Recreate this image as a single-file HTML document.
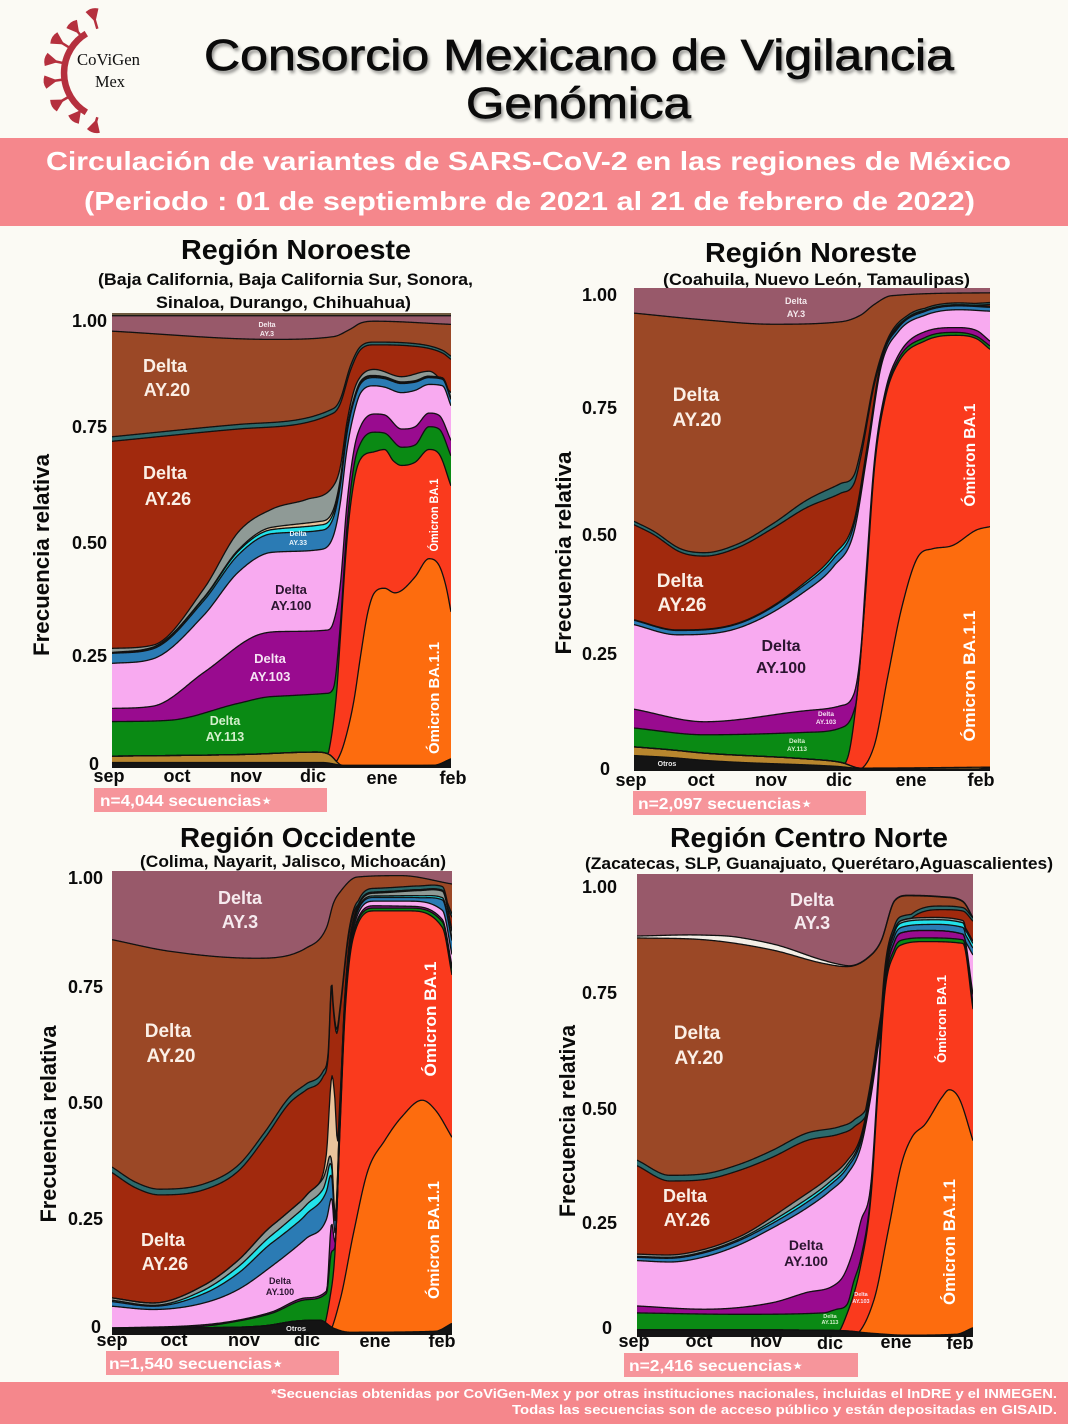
<!DOCTYPE html>
<html><head><meta charset="utf-8">
<style>
html,body{margin:0;padding:0;background:#fbfaf4;}
svg{display:block;}
text{font-family:"Liberation Sans",sans-serif;}
</style></head><body>
<svg id="s" xmlns="http://www.w3.org/2000/svg" width="1068" height="1424" viewBox="0 0 1068 1424">
<defs>
<filter id="sh" x="-5%" y="-30%" width="110%" height="160%"><feGaussianBlur stdDeviation="1.6"/></filter>
<clipPath id="c1"><rect x="112" y="313" width="339" height="455"/></clipPath>
<clipPath id="c2"><rect x="634" y="288" width="356" height="483"/></clipPath>
<clipPath id="c3"><rect x="112" y="871" width="340" height="464"/></clipPath>
<clipPath id="c4"><rect x="637" y="874" width="336" height="463"/></clipPath>
</defs>
<rect width="1068" height="1424" fill="#fbfaf4"/>

<!-- Logo -->
<g fill="#b5303e" stroke="#b5303e">
<path d="M86.3,33.6 A46,46 0 0 0 86.3,112.4" fill="none" stroke-width="6.5"/>
<g transform="translate(110,73) rotate(-106)"><line x1="46" y1="0" x2="56" y2="0" stroke-width="2.5"/><path d="M54,0 L65,-6 Q68,0 65,6 Z" stroke-width="1"/></g>
<g transform="translate(110,73) rotate(-128)"><line x1="46" y1="0" x2="53" y2="0" stroke-width="2.5"/><path d="M51,0 L62,-6 Q65,0 62,6 Z" stroke-width="1"/></g>
<g transform="translate(110,73) rotate(-148)"><line x1="46" y1="0" x2="57" y2="0" stroke-width="2.5"/><path d="M55,0 L66,-6 Q69,0 66,6 Z" stroke-width="1"/></g>
<g transform="translate(110,73) rotate(-168)"><line x1="46" y1="0" x2="56" y2="0" stroke-width="2.5"/><path d="M54,0 L65,-6 Q68,0 65,6 Z" stroke-width="1"/></g>
<g transform="translate(110,73) rotate(172)"><line x1="46" y1="0" x2="56" y2="0" stroke-width="2.5"/><path d="M54,0 L65,-6 Q68,0 65,6 Z" stroke-width="1"/></g>
<g transform="translate(110,73) rotate(150)"><line x1="46" y1="0" x2="56" y2="0" stroke-width="2.5"/><path d="M54,0 L65,-6 Q68,0 65,6 Z" stroke-width="1"/></g>
<g transform="translate(110,73) rotate(128)"><line x1="46" y1="0" x2="50" y2="0" stroke-width="2.5"/><path d="M48,0 L59,-6 Q62,0 59,6 Z" stroke-width="1"/></g>
<g transform="translate(110,73) rotate(106)"><line x1="46" y1="0" x2="51" y2="0" stroke-width="2.5"/><path d="M49,0 L60,-6 Q63,0 60,6 Z" stroke-width="1"/></g>
</g>
<text x="77" y="65" font-size="17" fill="#111" textLength="63" lengthAdjust="spacingAndGlyphs" style="font-family:'Liberation Serif',serif">CoViGen</text>
<text x="95" y="87" font-size="17" fill="#111" textLength="30" lengthAdjust="spacingAndGlyphs" style="font-family:'Liberation Serif',serif">Mex</text>

<!-- Main title -->
<g filter="url(#sh)" opacity="0.55" fill="#333">
<text x="206" y="73" font-size="44" textLength="750" lengthAdjust="spacingAndGlyphs">Consorcio Mexicano de Vigilancia</text>
<text x="468" y="121" font-size="44" textLength="225" lengthAdjust="spacingAndGlyphs">Genómica</text>
</g>
<text x="204" y="70" font-size="44" fill="#0a0a0a" stroke="#0a0a0a" stroke-width="0.7" textLength="750" lengthAdjust="spacingAndGlyphs">Consorcio Mexicano de Vigilancia</text>
<text x="466" y="118" font-size="44" fill="#0a0a0a" stroke="#0a0a0a" stroke-width="0.7" textLength="225" lengthAdjust="spacingAndGlyphs">Genómica</text>

<!-- Pink band -->
<rect x="0" y="138" width="1068" height="88" fill="#f5878c"/>
<text x="46" y="170" font-size="26" font-weight="bold" fill="#ffffff" textLength="965" lengthAdjust="spacingAndGlyphs">Circulación de variantes de SARS-CoV-2 en las regiones de México</text>
<text x="84" y="210" font-size="26" font-weight="bold" fill="#ffffff" textLength="891" lengthAdjust="spacingAndGlyphs">(Periodo : 01 de septiembre de 2021 al 21 de febrero de 2022)</text>

<!-- Panel titles -->
<g font-weight="bold" fill="#0a0a0a">
<text x="181" y="259" font-size="28" textLength="230" lengthAdjust="spacingAndGlyphs">Región Noroeste</text>
<text x="98" y="285" font-size="16.5" textLength="375" lengthAdjust="spacingAndGlyphs">(Baja California, Baja California Sur, Sonora,</text>
<text x="156" y="308" font-size="16.5" textLength="255" lengthAdjust="spacingAndGlyphs">Sinaloa, Durango, Chihuahua)</text>
<text x="705" y="262" font-size="28" textLength="212" lengthAdjust="spacingAndGlyphs">Región Noreste</text>
<text x="663" y="285" font-size="16.5" textLength="307" lengthAdjust="spacingAndGlyphs">(Coahuila, Nuevo León, Tamaulipas)</text>
<text x="180" y="847" font-size="28" textLength="236" lengthAdjust="spacingAndGlyphs">Región Occidente</text>
<text x="140" y="867" font-size="16.5" textLength="306" lengthAdjust="spacingAndGlyphs">(Colima, Nayarit, Jalisco, Michoacán)</text>
<text x="670" y="847" font-size="28" textLength="278" lengthAdjust="spacingAndGlyphs">Región Centro Norte</text>
<text x="585" y="869" font-size="16.5" textLength="468" lengthAdjust="spacingAndGlyphs">(Zacatecas, SLP, Guanajuato, Querétaro,Aguascalientes)</text>
</g>

<!-- Plot groups -->
<g id="p1" clip-path="url(#c1)"></g>
<g id="p2" clip-path="url(#c2)"></g>
<g id="p3" clip-path="url(#c3)"></g>
<g id="p4" clip-path="url(#c4)"></g>

<!-- Y ticks -->
<g font-size="18" font-weight="bold" fill="#0a0a0a" text-anchor="end">
<text x="107" y="327">1.00</text><text x="107" y="433">0.75</text><text x="107" y="549">0.50</text><text x="107" y="662">0.25</text><text x="99" y="770">0</text>
<text x="617" y="301">1.00</text><text x="617" y="414">0.75</text><text x="617" y="541">0.50</text><text x="617" y="660">0.25</text><text x="610" y="775">0</text>
<text x="103" y="884">1.00</text><text x="103" y="993">0.75</text><text x="103" y="1109">0.50</text><text x="103" y="1225">0.25</text><text x="101" y="1333">0</text>
<text x="617" y="893">1.00</text><text x="617" y="999">0.75</text><text x="617" y="1115">0.50</text><text x="617" y="1229">0.25</text><text x="612" y="1334">0</text>
</g>

<!-- Month labels -->
<g font-size="18" font-weight="bold" fill="#0a0a0a" text-anchor="middle">
<text x="109" y="782">sep</text><text x="177" y="782">oct</text><text x="246" y="782">nov</text><text x="313" y="782">dic</text><text x="382" y="784">ene</text><text x="453" y="784">feb</text>
<text x="631" y="786">sep</text><text x="701" y="786">oct</text><text x="771" y="786">nov</text><text x="839" y="786">dic</text><text x="911" y="786">ene</text><text x="981" y="786">feb</text>
<text x="112" y="1346">sep</text><text x="174" y="1346">oct</text><text x="244" y="1346">nov</text><text x="307" y="1346">dic</text><text x="375" y="1347">ene</text><text x="442" y="1347">feb</text>
<text x="634" y="1347">sep</text><text x="699" y="1347">oct</text><text x="766" y="1347">nov</text><text x="830" y="1349">dic</text><text x="896" y="1348">ene</text><text x="960" y="1349">feb</text>
</g>

<!-- Y axis titles -->
<g font-size="22" font-weight="bold" fill="#0a0a0a" text-anchor="middle">
<text transform="translate(49,555) rotate(-90)" textLength="202" lengthAdjust="spacingAndGlyphs">Frecuencia relativa</text>
<text transform="translate(571,553) rotate(-90)" textLength="203" lengthAdjust="spacingAndGlyphs">Frecuencia relativa</text>
<text transform="translate(56,1124) rotate(-90)" textLength="197" lengthAdjust="spacingAndGlyphs">Frecuencia relativa</text>
<text transform="translate(575,1121) rotate(-90)" textLength="192" lengthAdjust="spacingAndGlyphs">Frecuencia relativa</text>
</g>

<!-- n boxes -->
<rect x="94" y="788" width="233" height="24" fill="#f6959b"/>
<rect x="633" y="791" width="233" height="24" fill="#f6959b"/>
<rect x="106" y="1351" width="233" height="24" fill="#f6959b"/>
<rect x="624" y="1353" width="234" height="24" fill="#f6959b"/>
<g font-size="16" font-weight="bold" fill="#ffffff">
<text x="100" y="806" textLength="172" lengthAdjust="spacingAndGlyphs">n=4,044 secuencias⋆</text>
<text x="638" y="809" textLength="174" lengthAdjust="spacingAndGlyphs">n=2,097 secuencias⋆</text>
<text x="109" y="1369" textLength="174" lengthAdjust="spacingAndGlyphs">n=1,540 secuencias⋆</text>
<text x="629" y="1371" textLength="174" lengthAdjust="spacingAndGlyphs">n=2,416 secuencias⋆</text>
</g>

<!-- In-plot labels -->
<g font-weight="bold" text-anchor="middle">
<!-- P1 -->
<text x="267" y="327" font-size="7" fill="#f4e8ec">Delta</text>
<text x="267" y="336" font-size="7" fill="#f4e8ec">AY.3</text>
<text x="165" y="372" font-size="18" fill="#fbefe6">Delta</text>
<text x="167" y="396" font-size="18" fill="#fbefe6">AY.20</text>
<text x="165" y="479" font-size="18" fill="#fbefe6">Delta</text>
<text x="168" y="505" font-size="18" fill="#fbefe6">AY.26</text>
<text x="298" y="536" font-size="7" fill="#e6f2fa">Delta</text>
<text x="298" y="545" font-size="7" fill="#e6f2fa">AY.33</text>
<text x="291" y="594" font-size="13" fill="#2b1530">Delta</text>
<text x="291" y="610" font-size="13" fill="#2b1530">AY.100</text>
<text x="270" y="663" font-size="13" fill="#f6e3f4">Delta</text>
<text x="270" y="681" font-size="13" fill="#f6e3f4">AY.103</text>
<text x="225" y="725" font-size="12.5" fill="#d4f0cc">Delta</text>
<text x="225" y="741" font-size="12.5" fill="#d4f0cc">AY.113</text>
<!-- P2 -->
<text x="796" y="304" font-size="9" fill="#f4e8ec">Delta</text>
<text x="796" y="317" font-size="9" fill="#f4e8ec">AY.3</text>
<text x="696" y="401" font-size="19" fill="#fbefe6">Delta</text>
<text x="697" y="426" font-size="19" fill="#fbefe6">AY.20</text>
<text x="680" y="587" font-size="19" fill="#fbefe6">Delta</text>
<text x="682" y="611" font-size="19" fill="#fbefe6">AY.26</text>
<text x="781" y="651" font-size="16" fill="#2b1530">Delta</text>
<text x="781" y="673" font-size="16" fill="#2b1530">AY.100</text>
<text x="826" y="716" font-size="6.5" fill="#f6e3f4">Delta</text>
<text x="826" y="724" font-size="6.5" fill="#f6e3f4">AY.103</text>
<text x="797" y="743" font-size="6.5" fill="#d4f0cc">Delta</text>
<text x="797" y="751" font-size="6.5" fill="#d4f0cc">AY.113</text>
<text x="667" y="766" font-size="7" fill="#e8e8e8">Otros</text>
<!-- P3 -->
<text x="240" y="904" font-size="18" fill="#f6eaee">Delta</text>
<text x="240" y="928" font-size="18" fill="#f6eaee">AY.3</text>
<text x="168" y="1037" font-size="19" fill="#fbefe6">Delta</text>
<text x="171" y="1062" font-size="19" fill="#fbefe6">AY.20</text>
<text x="163" y="1246" font-size="18" fill="#fbefe6">Delta</text>
<text x="165" y="1270" font-size="18" fill="#fbefe6">AY.26</text>
<text x="280" y="1284" font-size="9" fill="#2b1530">Delta</text>
<text x="280" y="1295" font-size="9" fill="#2b1530">AY.100</text>
<text x="296" y="1331" font-size="7.5" fill="#e8e8e8">Otros</text>
<!-- P4 -->
<text x="812" y="906" font-size="18" fill="#f6eaee">Delta</text>
<text x="812" y="929" font-size="18" fill="#f6eaee">AY.3</text>
<text x="697" y="1039" font-size="19" fill="#fbefe6">Delta</text>
<text x="699" y="1064" font-size="19" fill="#fbefe6">AY.20</text>
<text x="685" y="1202" font-size="18" fill="#fbefe6">Delta</text>
<text x="687" y="1226" font-size="18" fill="#fbefe6">AY.26</text>
<text x="806" y="1250" font-size="14" fill="#2b1530">Delta</text>
<text x="806" y="1266" font-size="14" fill="#2b1530">AY.100</text>
<text x="861" y="1296" font-size="5.5" fill="#f6e3f4">Delta</text>
<text x="861" y="1303" font-size="5.5" fill="#f6e3f4">AY.103</text>
<text x="830" y="1318" font-size="5.5" fill="#d4f0cc">Delta</text>
<text x="830" y="1324" font-size="5.5" fill="#d4f0cc">AY.113</text>
</g>
<!-- Omicron labels -->
<g font-weight="bold" fill="#ffffff" text-anchor="middle">
<text transform="translate(438,515) rotate(-90)" font-size="12" textLength="73" lengthAdjust="spacingAndGlyphs">Ómicron BA.1</text>
<text transform="translate(439,698) rotate(-90)" font-size="15" textLength="112" lengthAdjust="spacingAndGlyphs">Ómicron BA.1.1</text>
<text transform="translate(975,455) rotate(-90)" font-size="15.5" textLength="103" lengthAdjust="spacingAndGlyphs">Ómicron BA.1</text>
<text transform="translate(975,676) rotate(-90)" font-size="17" textLength="131" lengthAdjust="spacingAndGlyphs">Ómicron BA.1.1</text>
<text transform="translate(436,1019) rotate(-90)" font-size="16.5" textLength="115" lengthAdjust="spacingAndGlyphs">Ómicron BA.1</text>
<text transform="translate(439,1240) rotate(-90)" font-size="15.5" textLength="118" lengthAdjust="spacingAndGlyphs">Ómicron BA.1.1</text>
<text transform="translate(946,1019) rotate(-90)" font-size="13" textLength="88" lengthAdjust="spacingAndGlyphs">Ómicron BA.1</text>
<text transform="translate(955,1242) rotate(-90)" font-size="16.5" textLength="126" lengthAdjust="spacingAndGlyphs">Ómicron BA.1.1</text>
</g>

<!-- Footer -->
<rect x="0" y="1382" width="1068" height="42" fill="#f5878c"/>
<g font-size="12.5" font-weight="bold" fill="#ffffff" text-anchor="end">
<text x="1057" y="1398" textLength="786" lengthAdjust="spacingAndGlyphs">*Secuencias obtenidas por CoViGen-Mex y por otras instituciones nacionales, incluidas el InDRE y el INMEGEN.</text>
<text x="1057" y="1414" textLength="545" lengthAdjust="spacingAndGlyphs">Todas las secuencias son de acceso público y están depositadas en GISAID.</text>
</g>
</svg>
<script>
(function(){
var NS='http://www.w3.org/2000/svg';
function mono(pts){
  var n=pts.length,xs=pts.map(function(p){return p[0];}),ys=pts.map(function(p){return p[1];});
  if(n===1)return function(){return ys[0];};
  var d=[],m=new Array(n),i;
  for(i=0;i<n-1;i++)d.push((ys[i+1]-ys[i])/(xs[i+1]-xs[i]));
  m[0]=d[0];m[n-1]=d[n-2];
  for(i=1;i<n-1;i++){m[i]=(d[i-1]*d[i]<=0)?0:(d[i-1]+d[i])/2;}
  for(i=0;i<n-1;i++){
    if(d[i]===0){m[i]=0;m[i+1]=0;continue;}
    var a=m[i]/d[i],b=m[i+1]/d[i],s=a*a+b*b;
    if(s>9){var tau=3/Math.sqrt(s);m[i]=tau*a*d[i];m[i+1]=tau*b*d[i];}
  }
  return function(t){
    if(t<=xs[0])return ys[0];if(t>=xs[n-1])return ys[n-1];
    var k=0;while(t>xs[k+1])k++;
    var h=xs[k+1]-xs[k],u=(t-xs[k])/h,u2=u*u,u3=u2*u;
    return (2*u3-3*u2+1)*ys[k]+(u3-2*u2+u)*h*m[k]+(-2*u3+3*u2)*ys[k+1]+(u3-u2)*h*m[k+1];
  };
}
function draw(id,x0,x1,y0,y1,layers){
  var g=document.getElementById(id),N=360,ts=[],i,k;
  for(i=0;i<=N;i++)ts.push(i/N);
  var prev=ts.map(function(){return 0;}),tops=[];
  layers.forEach(function(L){
    var f=mono(L[1]),rel=L[2]==='r';
    var cur=ts.map(function(t,j){var v=rel?prev[j]+Math.max(0,f(t)):Math.max(prev[j],f(t));return Math.min(1,v);});
    tops.push(cur);prev=cur;});
  function X(t){return (x0+t*(x1-x0)).toFixed(2);}
  function Y(v){return (y1-v*(y1-y0)).toFixed(2);}
  for(k=layers.length-1;k>=0;k--){
    var d='M'+x0+','+y1;
    for(i=0;i<=N;i++)d+='L'+X(ts[i])+','+Y(tops[k][i]);
    d+='L'+x1+','+y1+'Z';
    var p=document.createElementNS(NS,'path');p.setAttribute('d',d);p.setAttribute('fill',layers[k][0]);g.appendChild(p);
  }
  for(k=0;k<layers.length-1;k++){
    var d2='';
    for(i=0;i<=N;i++)d2+=(i?'L':'M')+X(ts[i])+','+Y(tops[k][i]);
    var q=document.createElementNS(NS,'path');q.setAttribute('d',d2);q.setAttribute('fill','none');q.setAttribute('stroke','#111');q.setAttribute('stroke-width','1.3');q.setAttribute('stroke-linejoin','round');g.appendChild(q);
  }
}
var C={otros:'#141414',gold:'#b8862e',orange:'#fd6c0e',red:'#fa3a1d',green:'#0a8a14',purple:'#990b8f',pink:'#f8aaf0',blue:'#2b7bb4',cyan:'#22e2ea',tan:'#e9c49c',grey:'#8f9a96',ay26:'#a1290d',teal:'#2c6a6c',ay20:'#9b4826',ay3:'#98596a',cream:'#f3eee6'};

draw('p1',112,451,313,768,[
 [C.otros,[[0,0.012],[0.62,0.012],[0.7,0.004],[0.95,0.006],[1,0.02]]],
 [C.gold,[[0,0.026],[0.4,0.03],[0.6,0.035],[0.64,0.03],[0.68,0.006],[0.95,0.006],[1,0.02]]],
 [C.orange,[[0,0],[0.64,0],[0.673,0.03],[0.694,0.08],[0.714,0.15],[0.734,0.25],[0.754,0.34],[0.774,0.385],[0.804,0.395],[0.834,0.385],[0.854,0.39],[0.894,0.42],[0.935,0.46],[0.965,0.445],[0.985,0.40],[1,0.343]]],
 [C.red,[[0,0],[0.62,0],[0.643,0.05],[0.663,0.17],[0.673,0.28],[0.693,0.50],[0.714,0.63],[0.734,0.68],[0.774,0.695],[0.804,0.70],[0.83,0.675],[0.854,0.665],[0.894,0.672],[0.935,0.70],[0.965,0.69],[1,0.62]]],
 [C.green,[[0,0.102],[0.171,0.105],[0.372,0.142],[0.472,0.157],[0.633,0.164],[0.653,0.175],[0.673,0.31],[0.693,0.53],[0.714,0.665],[0.734,0.715],[0.774,0.738],[0.804,0.736],[0.854,0.705],[0.894,0.71],[0.935,0.75],[0.965,0.745],[1,0.686]]],
 [C.purple,[[0,0.131],[0.121,0.136],[0.271,0.21],[0.422,0.29],[0.503,0.30],[0.633,0.303],[0.653,0.32],[0.673,0.40],[0.693,0.58],[0.714,0.70],[0.734,0.752],[0.774,0.778],[0.804,0.776],[0.854,0.745],[0.894,0.75],[0.935,0.78],[0.965,0.775],[1,0.72]]],
 [C.pink,[[0,0.23],[0.121,0.24],[0.271,0.336],[0.372,0.43],[0.472,0.474],[0.613,0.48],[0.653,0.51],[0.673,0.58],[0.693,0.70],[0.714,0.78],[0.734,0.825],[0.774,0.84],[0.804,0.837],[0.854,0.825],[0.894,0.83],[0.935,0.843],[0.975,0.84],[1,0.796]]],
 [C.blue,[[0,0.022],[0.121,0.022],[0.271,0.032],[0.372,0.038],[0.472,0.041],[0.613,0.042],[0.653,0.04],[0.693,0.035],[0.734,0.02],[0.774,0.018],[0.854,0.02],[0.935,0.015],[1,0.014]],'r'],
 [C.cyan,[[0,0.001],[0.271,0.005],[0.372,0.008],[0.47,0.009],[0.613,0.012],[0.653,0.01],[0.72,0.003],[1,0.002]],'r'],
 [C.tan,[[0,0.001],[0.3,0.002],[0.47,0.005],[0.613,0.008],[0.653,0.008],[0.72,0.003],[1,0.001]],'r'],
 [C.grey,[[0,0.263],[0.121,0.27],[0.271,0.394],[0.372,0.518],[0.472,0.569],[0.573,0.59],[0.653,0.62],[0.673,0.66],[0.693,0.76],[0.714,0.83],[0.734,0.861],[0.774,0.876],[0.854,0.86],[0.935,0.872],[1,0.825]]],
 [C.ay26,[[0,0.718],[0.372,0.745],[0.653,0.78],[0.673,0.80],[0.704,0.875],[0.734,0.92],[0.774,0.93],[0.874,0.928],[0.975,0.912],[1,0.898]]],
 [C.teal,[[0,0.728],[0.372,0.755],[0.653,0.79],[0.673,0.81],[0.704,0.885],[0.734,0.927],[0.774,0.936],[0.874,0.934],[0.975,0.918],[1,0.905]]],
 [C.ay20,[[0,0.96],[0.472,0.942],[0.653,0.948],[0.704,0.965],[0.734,0.978],[0.774,0.982],[1,0.975]]],
 [C.ay3,[[0,0.994],[1,0.994]]],
 ['#6e5a40',[[0,1],[1,1]]]
]);

draw('p2',634,990,288,771,[
 [C.otros,[[0,0.032],[0.1,0.028],[0.198,0.022],[0.293,0.018],[0.561,0.01],[0.65,0.005],[0.96,0.004],[1,0.008]]],
 [C.gold,[[0,0.05],[0.1,0.044],[0.198,0.037],[0.484,0.025],[0.58,0.018],[0.637,0.006],[1,0.008]]],
 [C.orange,[[0,0],[0.618,0],[0.675,0.053],[0.713,0.196],[0.752,0.338],[0.799,0.445],[0.838,0.46],[0.895,0.467],[0.962,0.499],[1,0.506]]],
 [C.red,[[0,0],[0.56,0],[0.599,0.025],[0.627,0.16],[0.651,0.374],[0.675,0.624],[0.704,0.766],[0.742,0.845],[0.819,0.891],[0.904,0.902],[0.962,0.895],[1,0.873]]],
 [C.green,[[0,0.089],[0.198,0.075],[0.484,0.08],[0.58,0.089],[0.618,0.125],[0.637,0.2],[0.651,0.38],[0.675,0.63],[0.704,0.772],[0.742,0.852],[0.819,0.898],[0.904,0.908],[0.962,0.9],[1,0.88]]],
 [C.purple,[[0,0.128],[0.198,0.102],[0.484,0.125],[0.58,0.135],[0.618,0.16],[0.637,0.25],[0.651,0.40],[0.675,0.64],[0.704,0.78],[0.742,0.86],[0.819,0.91],[0.904,0.918],[0.962,0.912],[1,0.89]]],
 [C.pink,[[0,0.303],[0.121,0.282],[0.293,0.296],[0.484,0.374],[0.561,0.424],[0.618,0.495],[0.656,0.66],[0.694,0.837],[0.742,0.909],[0.819,0.944],[0.914,0.955],[1,0.952]]],
 [C.blue,[[0,0.009],[0.3,0.009],[0.48,0.014],[0.56,0.016],[0.62,0.015],[0.7,0.008],[1,0.008]],'r'],
 [C.cyan,[[0,0.001],[0.4,0.002],[0.5,0.005],[0.6,0.008],[0.7,0.003],[1,0.002]],'r'],
 [C.ay26,[[0,0.51],[0.054,0.49],[0.131,0.453],[0.198,0.445],[0.293,0.463],[0.389,0.502],[0.484,0.545],[0.58,0.575],[0.618,0.595],[0.637,0.65],[0.675,0.80],[0.713,0.89],[0.771,0.94],[0.866,0.958],[1,0.966]]],
 [C.teal,[[0,0.007],[0.2,0.007],[0.4,0.01],[0.48,0.015],[0.58,0.02],[0.62,0.017],[0.66,0.01],[0.72,0.005],[1,0.004]],'r'],
 [C.ay20,[[0,0.948],[0.198,0.934],[0.389,0.925],[0.58,0.93],[0.637,0.944],[0.675,0.966],[0.723,0.984],[1,0.99]]],
 [C.ay3,[[0,1],[1,1]]]
]);

draw('p3',112,452,871,1335,[
 [C.otros,[[0,0.015],[0.3,0.016],[0.45,0.02],[0.54,0.03],[0.611,0.032],[0.651,0.015],[0.7,0.006],[0.95,0.008],[1,0.025]]],
 [C.orange,[[0,0],[0.631,0],[0.671,0.076],[0.711,0.222],[0.752,0.353],[0.802,0.419],[0.852,0.47],[0.912,0.506],[0.952,0.484],[1,0.426]]],
 [C.red,[[0,0],[0.611,0],[0.641,0.08],[0.656,0.18],[0.671,0.45],[0.686,0.70],[0.711,0.86],[0.772,0.914],[0.872,0.914],[0.972,0.878],[1,0.776]]],
 [C.green,[[0,0.015],[0.25,0.018],[0.371,0.03],[0.471,0.047],[0.571,0.076],[0.631,0.09],[0.646,0.18],[0.656,0.19],[0.671,0.46],[0.686,0.71],[0.711,0.868],[0.772,0.92],[0.872,0.92],[0.972,0.89],[1,0.79]]],
 [C.purple,[[0,0.015],[0.27,0.022],[0.371,0.032],[0.471,0.05],[0.571,0.08],[0.631,0.095],[0.646,0.24],[0.656,0.2],[0.671,0.465],[0.686,0.715],[0.711,0.872],[0.772,0.925],[0.872,0.924],[0.972,0.895],[1,0.795]]],
 [C.pink,[[0,0.062],[0.12,0.055],[0.27,0.069],[0.371,0.098],[0.471,0.149],[0.571,0.208],[0.631,0.25],[0.646,0.295],[0.656,0.22],[0.671,0.48],[0.686,0.725],[0.711,0.88],[0.772,0.935],[0.872,0.935],[0.972,0.915],[1,0.82]]],
 [C.blue,[[0,0.01],[0.12,0.007],[0.27,0.02],[0.371,0.035],[0.471,0.05],[0.551,0.05],[0.621,0.06],[0.636,0.06],[0.66,0.02],[0.7,0.008],[0.9,0.008],[1,0.03]],'r'],
 [C.cyan,[[0,0.003],[0.12,0.002],[0.27,0.008],[0.371,0.014],[0.471,0.017],[0.551,0.02],[0.621,0.02],[0.636,0.03],[0.66,0.005],[0.7,0.003],[1,0.005]],'r'],
 [C.grey,[[0,0.005],[0.12,0.005],[0.27,0.01],[0.371,0.014],[0.471,0.02],[0.551,0.02],[0.621,0.023],[0.636,0.02],[0.66,0.005],[0.7,0.005],[1,0.015]],'r'],
 [C.tan,[[0,0],[0.6,0],[0.63,0.03],[0.646,0.18],[0.655,0.25],[0.665,0.05],[0.68,0.003],[1,0.002]],'r'],
 [C.ay26,[[0,0.35],[0.07,0.317],[0.14,0.302],[0.27,0.313],[0.371,0.353],[0.451,0.426],[0.521,0.499],[0.571,0.528],[0.621,0.557],[0.636,0.6],[0.646,0.75],[0.651,0.70],[0.661,0.65],[0.671,0.70],[0.696,0.86],[0.721,0.925],[0.772,0.94],[0.872,0.945],[0.972,0.94],[1,0.90]]],
 [C.teal,[[0,0.012],[0.6,0.013],[0.64,0.01],[0.7,0.008],[1,0.008]],'r'],
 [C.ay20,[[0,0.852],[0.17,0.827],[0.421,0.812],[0.571,0.834],[0.631,0.878],[0.651,0.93],[0.671,0.955],[0.721,0.987],[0.85,0.99],[1,0.972]]],
 [C.ay3,[[0,1],[1,1]]]
]);

draw('p4',637,973,874,1337,[
 [C.otros,[[0,0.016],[0.6,0.014],[0.7,0.008],[0.8,0.004],[0.95,0.006],[1,0.02]]],
 [C.orange,[[0,0],[0.635,0],[0.706,0.082],[0.747,0.227],[0.787,0.373],[0.818,0.431],[0.858,0.46],[0.909,0.519],[0.929,0.534],[0.959,0.515],[1,0.424]]],
 [C.red,[[0,0],[0.585,0],[0.625,0.05],[0.666,0.155],[0.696,0.30],[0.716,0.52],[0.737,0.74],[0.767,0.83],[0.787,0.847],[0.858,0.854],[0.97,0.85],[1,0.708]]],
 [C.green,[[0,0.052],[0.301,0.049],[0.554,0.052],[0.595,0.06],[0.625,0.07],[0.645,0.12],[0.666,0.17],[0.696,0.31],[0.716,0.53],[0.737,0.75],[0.767,0.84],[0.787,0.857],[0.858,0.862],[0.97,0.858],[1,0.72]]],
 [C.purple,[[0,0.067],[0.2,0.06],[0.402,0.074],[0.504,0.096],[0.585,0.111],[0.615,0.133],[0.645,0.19],[0.666,0.25],[0.696,0.33],[0.716,0.545],[0.737,0.76],[0.767,0.855],[0.787,0.873],[0.858,0.878],[0.97,0.87],[1,0.74]]],
 [C.pink,[[0,0.165],[0.098,0.162],[0.2,0.173],[0.301,0.198],[0.402,0.235],[0.504,0.278],[0.574,0.315],[0.625,0.351],[0.666,0.41],[0.696,0.519],[0.726,0.665],[0.767,0.81],[0.807,0.861],[0.909,0.872],[0.97,0.86],[1,0.825]]],
 [C.blue,[[0,0.007],[0.2,0.009],[0.4,0.01],[0.5,0.012],[0.57,0.013],[0.62,0.014],[0.7,0.01],[0.8,0.012],[1,0.015]],'r'],
 [C.cyan,[[0,0.002],[0.3,0.003],[0.5,0.007],[0.6,0.007],[0.7,0.005],[0.8,0.01],[1,0.01]],'r'],
 [C.grey,[[0,0.005],[0.3,0.005],[0.5,0.012],[0.6,0.01],[0.7,0.005],[1,0.005]],'r'],
 [C.ay26,[[0,0.37],[0.098,0.337],[0.2,0.34],[0.301,0.359],[0.402,0.388],[0.504,0.424],[0.605,0.439],[0.645,0.453],[0.696,0.504],[0.737,0.665],[0.777,0.847],[0.807,0.898],[0.909,0.923],[0.97,0.92],[1,0.898]]],
 [C.teal,[[0,0.012],[0.3,0.013],[0.5,0.016],[0.65,0.015],[0.75,0.01],[1,0.007]],'r'],
 [C.ay20,[[0,0.862],[0.2,0.858],[0.402,0.836],[0.554,0.807],[0.625,0.80],[0.686,0.818],[0.726,0.854],[0.767,0.942],[0.807,0.953],[0.909,0.95],[0.97,0.94],[1,0.905]]],
 [C.cream,[[0,0.004],[0.2,0.01],[0.3,0.014],[0.45,0.012],[0.6,0.004],[0.65,0.001],[1,0.001]],'r'],
 [C.ay3,[[0,1],[1,1]]]
]);
})();
</script>
</body></html>
